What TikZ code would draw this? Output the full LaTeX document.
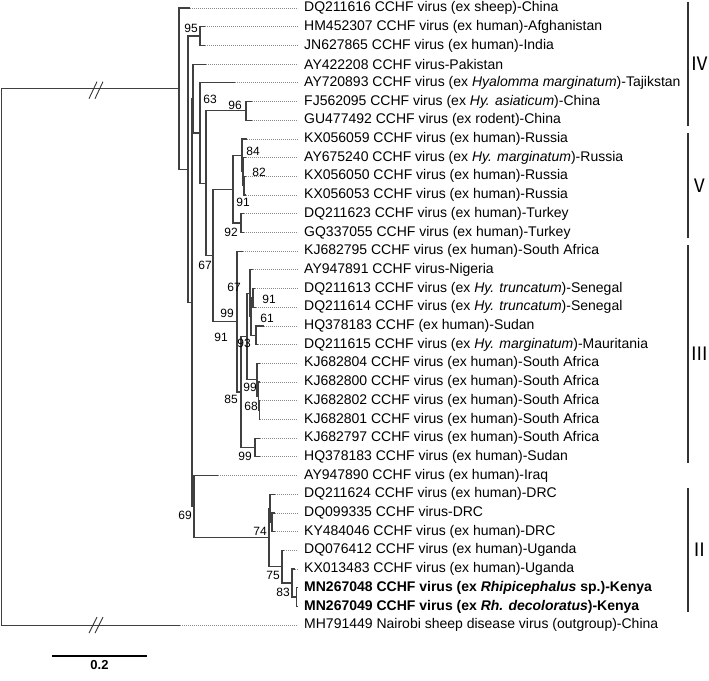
\documentclass[tikz,border=0pt]{standalone}
\usepackage{fontspec}
\setmainfont{Liberation Sans}
\newfontfamily\romfont{Noto Sans CJK SC}
\usetikzlibrary{positioning,calc}

\begin{document}
\begin{tikzpicture}[x=1pt,y=-1pt,every node/.style={font=\fontsize{14}{16}\selectfont},
 lf/.style={anchor=west,inner xsep=6pt,inner ysep=0pt},
 bs/.style={font=\fontsize{12}{13}\selectfont,inner sep=0pt},
 br/.style={line width=1.2pt,draw=black!75},
 dt/.style={line width=0.8pt,draw=black!45,dash pattern=on 0.8pt off 1.2pt},
 brk/.style={line width=0.9pt,draw=black!80},
 cl/.style={line width=1.2pt,draw=black!80},
 rn/.style={font=\romfont\fontsize{18.5}{20}\selectfont,inner sep=0pt}]
\useasboundingbox (0,0) rectangle (709,680);
% internal nodes
\coordinate (root) at (1.5,356.9);
\coordinate (nA) at (179,88.65);
\coordinate (nB) at (188,169.3);
\coordinate (n95) at (200,36.05);
\coordinate (nC) at (192,302.5);
\coordinate (nD) at (193,98.5);
\coordinate (nF) at (200,132.95);
\coordinate (nG) at (206,183.1);
\coordinate (n96) at (246,110.85);
\coordinate (nH) at (213,255.3);
\coordinate (nV) at (233,189.15);
\coordinate (nV1) at (242,155.25);
\coordinate (nV2) at (243,171.6);
\coordinate (nV3) at (244,185.65);
\coordinate (n92) at (241,223.05);
\coordinate (nIII) at (237,321.5);
\coordinate (nN) at (241,391.9);
\coordinate (n93) at (247,336.4);
\coordinate (nU) at (250,293.2);
\coordinate (nU2) at (251,316.55);
\coordinate (n91) at (253,297.85);
\coordinate (n61) at (256,335.25);
\coordinate (nL1) at (257,379.65);
\coordinate (nL2) at (258.5,396);
\coordinate (nL3) at (259.5,410.05);
\coordinate (n99) at (255,447.45);
\coordinate (n69) at (194,506.45);
\coordinate (n74) at (269,537.4);
\coordinate (nD1) at (270,508.2);
\coordinate (nD2) at (272,522.25);
\coordinate (nK1) at (282,566.65);
\coordinate (n83) at (292,583);
\coordinate (nMN) at (296.5,597.05);
% tips
\coordinate (t1) at (190,8);
\coordinate (t2) at (205,26.7);
\coordinate (t3) at (205,45.4);
\coordinate (t4) at (206,64.1);
\coordinate (t5) at (235,82.8);
\coordinate (t6) at (252,101.5);
\coordinate (t7) at (252,120.2);
\coordinate (t8) at (247,138.9);
\coordinate (t9) at (246,157.6);
\coordinate (t10) at (246,176.3);
\coordinate (t11) at (246,195);
\coordinate (t12) at (244,213.7);
\coordinate (t13) at (244,232.4);
\coordinate (t14) at (243,251.1);
\coordinate (t15) at (253,269.8);
\coordinate (t16) at (255,288.5);
\coordinate (t17) at (256,307.2);
\coordinate (t18) at (264,325.9);
\coordinate (t19) at (258,344.6);
\coordinate (t20) at (260,363.3);
\coordinate (t21) at (260,382);
\coordinate (t22) at (260,400.7);
\coordinate (t23) at (260,419.4);
\coordinate (t24) at (260,438.1);
\coordinate (t25) at (260,456.8);
\coordinate (t26) at (218,475.5);
\coordinate (t27) at (275,494.2);
\coordinate (t28) at (275,512.9);
\coordinate (t29) at (275,531.6);
\coordinate (t30) at (284,550.3);
\coordinate (t31) at (295,569);
\coordinate (t32) at (298,587.7);
\coordinate (t33) at (298,606.4);
\coordinate (t34) at (180,625.1);
% taxa
\node[lf] (l1) at (298,8) {DQ211616 CCHF virus (ex sheep)-China};
\node[lf] (l2) at (298,26.7) {HM452307 CCHF virus (ex human)-Afghanistan};
\node[lf] (l3) at (298,45.4) {JN627865 CCHF virus (ex human)-India};
\node[lf] (l4) at (298,64.1) {AY422208 CCHF virus-Pakistan};
\node[lf] (l5) at (298,82.8) {AY720893 CCHF virus (ex \textit{Hyalomma marginatum})-Tajikstan};
\node[lf] (l6) at (298,101.5) {FJ562095 CCHF virus (ex \textit{Hy. asiaticum})-China};
\node[lf] (l7) at (298,120.2) {GU477492 CCHF virus (ex rodent)-China};
\node[lf] (l8) at (298,138.9) {KX056059 CCHF virus (ex human)-Russia};
\node[lf] (l9) at (298,157.6) {AY675240 CCHF virus (ex \textit{Hy. marginatum})-Russia};
\node[lf] (l10) at (298,176.3) {KX056050 CCHF virus (ex human)-Russia};
\node[lf] (l11) at (298,195) {KX056053 CCHF virus (ex human)-Russia};
\node[lf] (l12) at (298,213.7) {DQ211623 CCHF virus (ex human)-Turkey};
\node[lf] (l13) at (298,232.4) {GQ337055 CCHF virus (ex human)-Turkey};
\node[lf] (l14) at (298,251.1) {KJ682795 CCHF virus (ex human)-South Africa};
\node[lf] (l15) at (298,269.8) {AY947891 CCHF virus-Nigeria};
\node[lf] (l16) at (298,288.5) {DQ211613 CCHF virus (ex \textit{Hy. truncatum})-Senegal};
\node[lf] (l17) at (298,307.2) {DQ211614 CCHF virus (ex \textit{Hy. truncatum})-Senegal};
\node[lf] (l18) at (298,325.9) {HQ378183 CCHF (ex human)-Sudan};
\node[lf] (l19) at (298,344.6) {DQ211615 CCHF virus (ex \textit{Hy. marginatum})-Mauritania};
\node[lf] (l20) at (298,363.3) {KJ682804 CCHF virus (ex human)-South Africa};
\node[lf] (l21) at (298,382) {KJ682800 CCHF virus (ex human)-South Africa};
\node[lf] (l22) at (298,400.7) {KJ682802 CCHF virus (ex human)-South Africa};
\node[lf] (l23) at (298,419.4) {KJ682801 CCHF virus (ex human)-South Africa};
\node[lf] (l24) at (298,438.1) {KJ682797 CCHF virus (ex human)-South Africa};
\node[lf] (l25) at (298,456.8) {HQ378183 CCHF virus (ex human)-Sudan};
\node[lf] (l26) at (298,475.5) {AY947890 CCHF virus (ex human)-Iraq};
\node[lf] (l27) at (298,494.2) {DQ211624 CCHF virus (ex human)-DRC};
\node[lf] (l28) at (298,512.9) {DQ099335 CCHF virus-DRC};
\node[lf] (l29) at (298,531.6) {KY484046 CCHF virus (ex human)-DRC};
\node[lf] (l30) at (298,550.3) {DQ076412 CCHF virus (ex human)-Uganda};
\node[lf] (l31) at (298,569) {KX013483 CCHF virus (ex human)-Uganda};
\node[lf] (l32) at (298,587.7) {\textbf{MN267048 CCHF virus (ex \textit{Rhipicephalus} sp.)-Kenya}};
\node[lf] (l33) at (298,606.4) {\textbf{MN267049 CCHF virus (ex \textit{Rh. decoloratus})-Kenya}};
\node[lf] (l34) at (298,625.1) {MH791449 Nairobi sheep disease virus (outgroup)-China};
% branches
\draw[br] (root) |- (nA); \draw[br] (root) |- (t34);
\draw[br] (nA) |- (t1); \draw[br] (nA) |- (nB);
\draw[br] (nB) |- (n95); \draw[br] (nB) |- (nC);
\draw[br] (n95) |- (t2); \draw[br] (n95) |- (t3);
\draw[br] (nC) |- (nD); \draw[br] (nC) |- (n69);
\draw[br] (nD) |- (t4); \draw[br] (nD) |- (nF);
\draw[br] (nF) |- (t5); \draw[br] (nF) |- (nG);
\draw[br] (nG) |- (n96); \draw[br] (nG) |- (nH);
\draw[br] (n96) |- (t6); \draw[br] (n96) |- (t7);
\draw[br] (nH) |- (nV); \draw[br] (nH) |- (nIII);
\draw[br] (nV) |- (nV1); \draw[br] (nV) |- (n92);
\draw[br] (nV1) |- (t8); \draw[br] (nV1) |- (nV2);
\draw[br] (nV2) |- (t9); \draw[br] (nV2) |- (nV3);
\draw[br] (nV3) |- (t10); \draw[br] (nV3) |- (t11);
\draw[br] (n92) |- (t12); \draw[br] (n92) |- (t13);
\draw[br] (nIII) |- (t14); \draw[br] (nIII) |- (nN);
\draw[br] (nN) |- (n93); \draw[br] (nN) |- (n99);
\draw[br] (n93) |- (nU); \draw[br] (n93) |- (nL1);
\draw[br] (nU) |- (t15); \draw[br] (nU) |- (nU2);
\draw[br] (nU2) |- (n91); \draw[br] (nU2) |- (n61);
\draw[br] (n91) |- (t16); \draw[br] (n91) |- (t17);
\draw[br] (n61) |- (t18); \draw[br] (n61) |- (t19);
\draw[br] (nL1) |- (t20); \draw[br] (nL1) |- (nL2);
\draw[br] (nL2) |- (t21); \draw[br] (nL2) |- (nL3);
\draw[br] (nL3) |- (t22); \draw[br] (nL3) |- (t23);
\draw[br] (n99) |- (t24); \draw[br] (n99) |- (t25);
\draw[br] (n69) |- (t26); \draw[br] (n69) |- (n74);
\draw[br] (n74) |- (nD1); \draw[br] (n74) |- (nK1);
\draw[br] (nD1) |- (t27); \draw[br] (nD1) |- (nD2);
\draw[br] (nD2) |- (t28); \draw[br] (nD2) |- (t29);
\draw[br] (nK1) |- (t30); \draw[br] (nK1) |- (n83);
\draw[br] (n83) |- (t31); \draw[br] (n83) |- (nMN);
\draw[br] (nMN) |- (t32); \draw[br] (nMN) |- (t33);
% dotted leaders
\draw[dt] (t1)--(l1.west); \draw[dt] (t2)--(l2.west); \draw[dt] (t3)--(l3.west);
\draw[dt] (t4)--(l4.west); \draw[dt] (t5)--(l5.west); \draw[dt] (t6)--(l6.west);
\draw[dt] (t7)--(l7.west); \draw[dt] (t8)--(l8.west); \draw[dt] (t9)--(l9.west);
\draw[dt] (t10)--(l10.west); \draw[dt] (t11)--(l11.west); \draw[dt] (t12)--(l12.west);
\draw[dt] (t13)--(l13.west); \draw[dt] (t14)--(l14.west); \draw[dt] (t15)--(l15.west);
\draw[dt] (t16)--(l16.west); \draw[dt] (t17)--(l17.west); \draw[dt] (t18)--(l18.west);
\draw[dt] (t19)--(l19.west); \draw[dt] (t20)--(l20.west); \draw[dt] (t21)--(l21.west);
\draw[dt] (t22)--(l22.west); \draw[dt] (t23)--(l23.west); \draw[dt] (t24)--(l24.west);
\draw[dt] (t25)--(l25.west); \draw[dt] (t26)--(l26.west); \draw[dt] (t27)--(l27.west);
\draw[dt] (t28)--(l28.west); \draw[dt] (t29)--(l29.west); \draw[dt] (t30)--(l30.west);
\draw[dt] (t31)--(l31.west); \draw[dt] (t34)--(l34.west);
% breaks on the root branches
\coordinate (bk1) at (96,88.65);
\coordinate (bk2) at (96,625.1);
\draw[brk] ([shift={(-7,10)}]bk1) -- ([shift={(1,-7)}]bk1);
\draw[brk] ([shift={(-1,10)}]bk1) -- ([shift={(7,-7)}]bk1);
\draw[brk] ([shift={(-7,8)}]bk2) -- ([shift={(1,-8)}]bk2);
\draw[brk] ([shift={(-1,8)}]bk2) -- ([shift={(7,-8)}]bk2);
% bootstrap values
\node[bs] (b95) at (191,28) {95};
\node[bs] (b63) at (210,99) {63};
\node[bs] (b96) at (235,105) {96};
\node[bs] (b84) at (253,151) {84};
\node[bs] (b82) at (259,172) {82};
\node[bs] (b91a) at (243,202) {91};
\node[bs] (b92) at (231,232) {92};
\node[bs] (b67a) at (205,265) {67};
\node[bs] (b67b) at (234,287) {67};
\node[bs] (b91b) at (269,299) {91};
\node[bs] (b99a) at (227,313) {99};
\node[bs] (b61) at (267,318) {61};
\node[bs] (b91c) at (221,337) {91};
\node[bs] (b93) at (244,343) {93};
\node[bs] (b99b) at (250,387) {99};
\node[bs] (b85) at (231,399) {85};
\node[bs] (b68) at (251,406) {68};
\node[bs] (b99c) at (245,456) {99};
\node[bs] (b69) at (185,515) {69};
\node[bs] (b74) at (260,531) {74};
\node[bs] (b75) at (273,575) {75};
\node[bs] (b83) at (283,592) {83};
% genotype bars
\draw[cl] (688,2) -- node[rn,right=1.5pt] (g4) {Ⅳ} (688,126);
\draw[cl] (688,133) -- node[rn,right=1.5pt] (g5) {Ⅴ} (688,238);
\draw[cl] (688,245) -- node[rn,right=1.5pt] (g3) {Ⅲ} (688,463);
\draw[cl] (688,488) -- node[rn,right=1.5pt] (g2) {Ⅱ} (688,612);
% scale bar
\coordinate (sb1) at (52,656);
\coordinate (sb2) at (147,656);
\draw[line width=2pt] (sb1) -- (sb2);
\node[below=4pt of $(sb1)!0.5!(sb2)$,font=\bfseries\fontsize{13}{14}\selectfont,inner sep=0pt] (sbl) {0.2};
\end{tikzpicture}
\end{document}
